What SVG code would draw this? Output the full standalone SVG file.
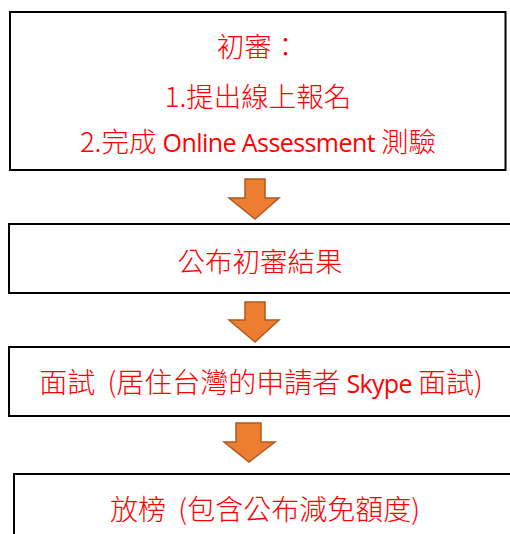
<svg xmlns="http://www.w3.org/2000/svg" width="510" height="534" viewBox="0 0 510 534">
<defs>
<style>
.box{fill:#fff;stroke:#000;stroke-width:2}
.t{font-family:"Noto Sans CJK TC","Noto Sans CJK SC",sans-serif;font-size:27.5px;font-weight:300;fill:#ff0000;text-anchor:middle}
.w{font-size:28px}
.lat{font-family:"Open Sans","Noto Sans CJK TC",sans-serif;font-size:25px;font-weight:400}
.arr{fill:#ed7d31;stroke:#ae5a21;stroke-width:1.5}
</style>
</defs>
<rect width="510" height="534" fill="#fff"/>
<g id="connectors">
<polygon class="arr" points="245,179 265,179 265,198 279,198 255,219 229,198 245,198"/>
<polygon class="arr" points="245,302 265,302 265,320 279,320 255,342 229,320 245,320"/>
<polygon class="arr" points="236,423 261,423 261,442 275,442 249,462 224,442 236,442"/>
</g>
<g id="n1">
<rect class="box" x="10" y="12" width="495.5" height="158"/>
<text class="t" x="258" y="57">初審：</text>
<text class="t" x="258" y="107">1.提出線上報名</text>
<text class="t" x="258" y="152">2.完成 <tspan class="lat" textLength="213">Online Assessment</tspan> 測驗</text>
</g>
<g id="n2">
<rect class="box" x="9" y="224" width="510" height="69"/>
<text class="t" x="260" y="272">公布初審結果</text>
</g>
<g id="n3">
<rect class="box" x="9" y="347" width="510" height="69"/>
<text class="t w" x="261" y="393" xml:space="preserve">面試  (居住台灣的申請者 <tspan class="lat" textLength="66">Skype</tspan> 面試)</text>
</g>
<g id="n4">
<rect class="box" x="14" y="474" width="510" height="80"/>
<text class="t w" x="265" y="520" xml:space="preserve">放榜  (包含公布減免額度)</text>
</g>
</svg>
